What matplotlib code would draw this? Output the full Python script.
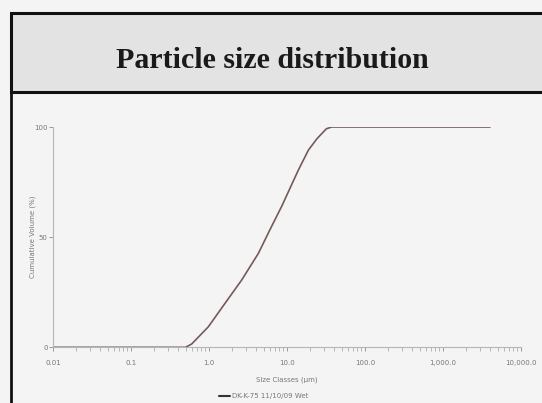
import matplotlib
matplotlib.use("Agg")
import matplotlib.pyplot as plt
from matplotlib.patches import Rectangle
from matplotlib.lines import Line2D
from matplotlib.ticker import LogLocator, NullFormatter, FixedLocator, FixedFormatter

# ---- data ----
size_um = [0.01, 0.1, 0.3, 0.5, 0.6, 0.98, 1.6, 2.62, 4.29, 6.05, 8.55, 13.96, 18.8, 24.0, 27.9, 32.0, 37.4, 100, 1000, 4000]
cum_vol = [0, 0, 0, 0, 1.5, 9.3, 19.9, 30.5, 42.6, 53.4, 64.0, 80.4, 89.5, 94.5, 97.0, 99.2, 100, 100, 100, 100]
x_ticks = [0.01, 0.1, 1, 10, 100, 1000, 10000]
x_tick_labels = ["0.01", "0.1", "1.0", "10.0", "100.0", "1,000.0", "10,000.0"]
y_ticks = [0, 50, 100]
y_tick_labels = ["0", "50", "100"]
title = "Particle size distribution"
x_label = "Size Classes (\u03bcm)"
y_label = "Cumulative Volume (%)"
series_name = "DK-K-75 11/10/09 Wet"

W, H = 542, 403
fig = plt.figure(figsize=(W / 100, H / 100), dpi=100)
fig.patch.set_facecolor("#f4f4f4")

def fx(px):
    return px / W

def fy(py):
    return 1 - py / H

# title box
fig.patches.append(Rectangle((fx(10.5), fy(92)), fx(545) - fx(10.5), fy(13) - fy(92),
                             transform=fig.transFigure, facecolor="#e3e3e3",
                             edgecolor="#111111", linewidth=2.2, zorder=1))
fig.lines.append(Line2D([fx(10.5), fx(10.5)], [fy(92), fy(410)], transform=fig.transFigure,
                        color="#111111", linewidth=2.0))
fig.text(fx(272), fy(60), title, ha="center", va="center", fontsize=21.5,
         fontweight="bold", family="Liberation Serif", color="#1a1a1a")

left, right, bottom, top = 53, 521, 347.3, 127
ax = fig.add_axes([fx(left), fy(bottom), fx(right) - fx(left), fy(top) - fy(bottom)])
ax.set_facecolor("none")
ax.plot(size_um, cum_vol, color="#765a5a", linewidth=1.2, solid_capstyle="round")
ax.set_xscale("log")
ax.set_xlim(0.01, 10000)
ax.set_ylim(0, 100)
ax.xaxis.set_major_locator(FixedLocator(x_ticks))
ax.xaxis.set_major_formatter(FixedFormatter(x_tick_labels))
ax.xaxis.set_minor_locator(LogLocator(base=10, subs=range(2, 10)))
ax.xaxis.set_minor_formatter(NullFormatter())
ax.yaxis.set_major_locator(FixedLocator(y_ticks))
ax.yaxis.set_major_formatter(FixedFormatter(y_tick_labels))
for s in ["top", "right"]:
    ax.spines[s].set_visible(False)
for s in ["left", "bottom"]:
    ax.spines[s].set_color("#b5b5b5")
    ax.spines[s].set_linewidth(0.8)
ax.tick_params(axis="both", which="major", direction="out", length=3, width=0.7,
               color="#999999", labelsize=5, labelcolor="#777777")
ax.tick_params(axis="x", which="major", pad=6)
ax.tick_params(axis="y", which="major", pad=0.8)
ax.tick_params(axis="x", which="minor", direction="out", length=3, width=0.6, color="#aaaaaa")
ax.set_xlabel(x_label, fontsize=5, color="#777777", labelpad=8)
ax.set_ylabel(y_label, fontsize=5, color="#777777")
ax.yaxis.set_label_coords(-0.036, 0.5)
leg = ax.legend([series_name], loc="upper center", bbox_to_anchor=(0.45, -0.18),
                frameon=False, fontsize=5, handlelength=1.5, handletextpad=0.3)
for t in leg.get_texts():
    t.set_color("#777777")
for l in leg.get_lines():
    l.set_color("#333333")
    l.set_linewidth(1.5)

fig.savefig("out.png", dpi=100, facecolor=fig.get_facecolor())
